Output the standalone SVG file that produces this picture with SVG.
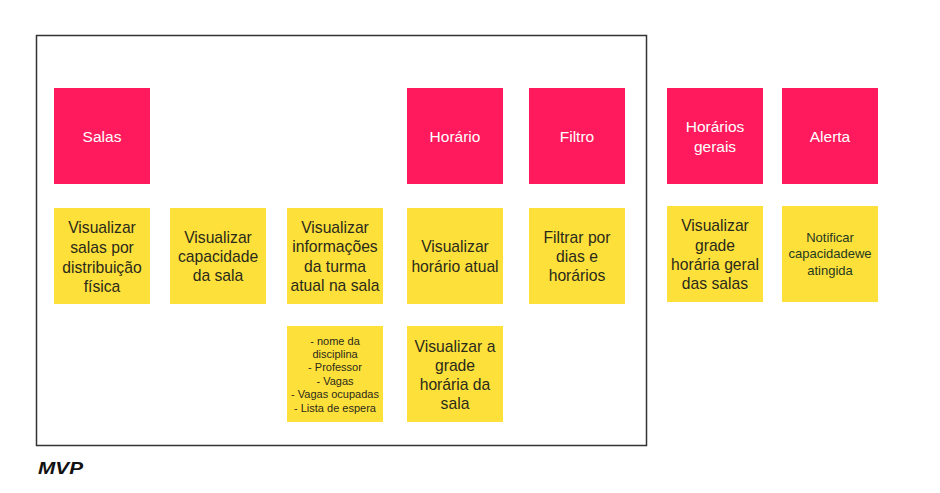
<svg xmlns="http://www.w3.org/2000/svg" width="940" height="493" viewBox="0 0 940 493">
<style>
.pink{fill:#fe1a5d}
.yel{fill:#fee03b}
.t{font-family:"Liberation Sans",Arial,sans-serif;text-anchor:middle;dominant-baseline:central}
.w{fill:#ffffff;font-size:15.5px}
.d{fill:#2a2a1a;font-size:15.7px}
.s{fill:#2a2a1a;font-size:11px}
.m{fill:#1f3a1f;font-size:13px}
</style>
<rect width="940" height="493" fill="#ffffff"/>
<g id="mvp-frame">
<rect x="36.5" y="35.5" width="610" height="410" fill="none" stroke="#333" stroke-width="1.5"/>
<text x="38" y="474" font-family="Liberation Sans,Arial,sans-serif" font-size="17" font-weight="bold" font-style="italic" fill="#111" textLength="45" lengthAdjust="spacingAndGlyphs">MVP</text>
</g>
<g id="connectors"></g>
<g id="salas"><rect class="pink" x="54" y="88" width="96" height="96"/><text class="t w" x="102" y="136">Salas</text></g>
<g id="horario"><rect class="pink" x="407" y="88" width="96" height="96"/><text class="t w" x="455" y="136">Horário</text></g>
<g id="filtro"><rect class="pink" x="529" y="88" width="96" height="96"/><text class="t w" x="577" y="136">Filtro</text></g>
<g id="horarios-gerais"><rect class="pink" x="667" y="88" width="96" height="96"/><text class="t w" x="715" y="126">Horários</text><text class="t w" x="715" y="146">gerais</text></g>
<g id="alerta"><rect class="pink" x="782" y="88" width="96" height="96"/><text class="t w" x="830" y="136">Alerta</text></g>

<g id="card-salas"><rect class="yel" x="54" y="208" width="96" height="96"/>
<text class="t d" x="102" y="227">Visualizar</text><text class="t d" x="102" y="247">salas por</text><text class="t d" x="102" y="267">distribuição</text><text class="t d" x="102" y="286">física</text></g>
<g id="card-capacidade"><rect class="yel" x="170" y="208" width="96" height="96"/>
<text class="t d" x="218" y="237">Visualizar</text><text class="t d" x="218" y="256">capacidade</text><text class="t d" x="218" y="275">da sala</text></g>
<g id="card-informacoes"><rect class="yel" x="287" y="208" width="96" height="96"/>
<text class="t d" x="335" y="227">Visualizar</text><text class="t d" x="335" y="246">informações</text><text class="t d" x="335" y="266">da turma</text><text class="t d" x="335" y="285">atual na sala</text></g>
<g id="card-horario-atual"><rect class="yel" x="407" y="208" width="96" height="96"/>
<text class="t d" x="455" y="246">Visualizar</text><text class="t d" x="455" y="266">horário atual</text></g>
<g id="card-filtrar"><rect class="yel" x="529" y="208" width="96" height="96"/>
<text class="t d" x="577" y="237">Filtrar por</text><text class="t d" x="577" y="256">dias e</text><text class="t d" x="577" y="275">horários</text></g>
<g id="card-grade-geral"><rect class="yel" x="667" y="206" width="96" height="96"/>
<text class="t d" x="715" y="225">Visualizar</text><text class="t d" x="715" y="245">grade</text><text class="t d" x="715" y="264">horária geral</text><text class="t d" x="715" y="283">das salas</text></g>
<g id="card-notificar"><rect class="yel" x="782" y="206" width="96" height="96"/>
<text class="t m" x="830" y="237">Notificar</text><text class="t m" x="830" y="253">capacidadewe</text><text class="t m" x="830" y="270">atingida</text></g>
<g id="card-detalhes"><rect class="yel" x="287" y="326" width="96" height="96"/>
<text class="t s" x="335" y="341">- nome da</text><text class="t s" x="335" y="354">disciplina</text><text class="t s" x="335" y="367">- Professor</text><text class="t s" x="335" y="381">- Vagas</text><text class="t s" x="335" y="394">- Vagas ocupadas</text><text class="t s" x="335" y="408">- Lista de espera</text></g>
<g id="card-grade-sala"><rect class="yel" x="407" y="326" width="96" height="96"/>
<text class="t d" x="455" y="346">Visualizar a</text><text class="t d" x="455" y="365">grade</text><text class="t d" x="455" y="384">horária da</text><text class="t d" x="455" y="403">sala</text></g>
</svg>
